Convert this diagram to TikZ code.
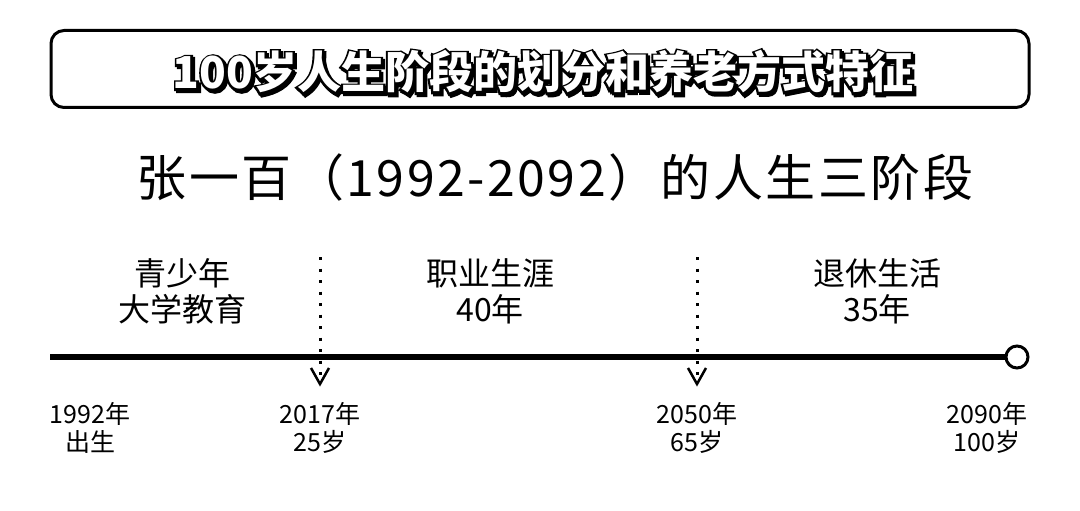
\documentclass[tikz,border=0pt]{standalone}
\usepackage{fontspec}
\setmainfont{Noto Sans CJK SC}
\newfontfamily\cjk{Noto Sans CJK SC}
\newfontfamily\cjkol[FakeBold=10]{Noto Sans CJK SC}
\usetikzlibrary{calc}
\tikzset{
  titlebox/.style={draw=black, line width=3pt, rounded corners=13pt},
  phase/.style={align=center, font=\cjk\fontsize{32}{36}\selectfont, inner sep=0pt},
  datelbl/.style={align=center, font=\cjk\fontsize{25}{28}\selectfont, inner sep=0pt},
  divider/.style={line width=3pt, dash pattern=on 3pt off 8.5pt},
  vtip/.style={line width=2.5pt, line join=miter},
  ttl/.style={font=\cjk\bfseries\fontsize{44}{48}\selectfont, inner sep=0pt},
  ttlol/.style={font=\cjkol\bfseries\fontsize{44}{48}\selectfont, inner sep=0pt},
}
\begin{document}
\begin{tikzpicture}[x=1pt,y=-1pt]
\useasboundingbox (0,0) rectangle (1080,511);
% title box
\node[titlebox, minimum width=978pt, minimum height=77pt] (box) at (540,69) {};
% outlined title text
\node[ttlol, text=black] (shadow) at (545,74) {100岁人生阶段的划分和养老方式特征};
\node[ttlol, text=black] (outline) at (543,72) {100岁人生阶段的划分和养老方式特征};
\node[ttl, text=white] (title) at (543,72) {100岁人生阶段的划分和养老方式特征};
% subtitle
\node[font=\cjk\fontsize{50}{54}\selectfont\addfontfeatures{LetterSpace=5}, inner sep=0pt] (sub) at (555,177) {张一百（1992-2092）的人生三阶段};
% timeline
\coordinate (tlstart) at (50,357);
\node[draw, circle, line width=3pt, minimum size=22pt, inner sep=0pt] (endc) at (1017,357) {};
\draw[line width=6pt] (tlstart) -- (endc.west);
% dividers
\coordinate (d1top) at (320,257);
\coordinate (d1bot) at (320,378);
\coordinate (d2top) at (697,257);
\coordinate (d2bot) at (697,378);
\draw[divider] (d1top) -- (d1bot);
\draw[divider] (d2top) -- (d2bot);
\draw[vtip] ($(d1bot)+(-9,-10)$) -- ($(d1bot)+(0,6)$) -- ($(d1bot)+(9,-10)$);
\draw[vtip] ($(d2bot)+(-9,-10)$) -- ($(d2bot)+(0,6)$) -- ($(d2bot)+(9,-10)$);
% phase labels
\node[phase] (p1) at (182,291) {青少年\\大学教育};
\node[phase] (p2) at (490,291) {职业生涯\\40年};
\node[phase] (p3) at (877,291) {退休生活\\35年};
% date labels
\node[datelbl] (l1) at (90,428) {1992年\\出生};
\node[datelbl] (l2) at (320,428) {2017年\\25岁};
\node[datelbl] (l3) at (697,428) {2050年\\65岁};
\node[datelbl] (l4) at (987,428) {2090年\\100岁};
\end{tikzpicture}
\end{document}
